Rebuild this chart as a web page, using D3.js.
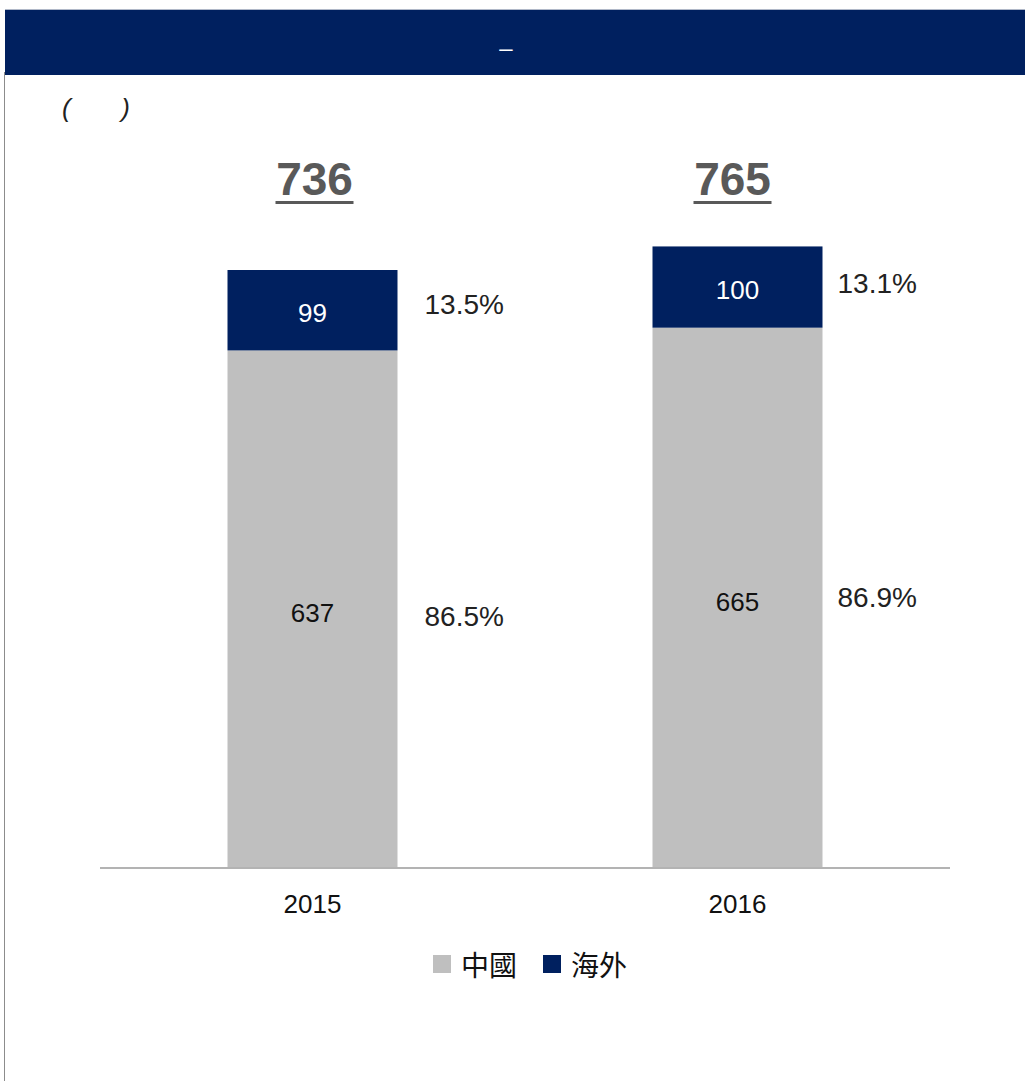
<!DOCTYPE html>
<meta charset="utf-8">
<style>
body { margin: 0; background: #fff; }
text { font-family: "Liberation Sans", Arial, sans-serif; }
.cjk { font-family: "Noto Sans CJK TC", "Liberation Sans", sans-serif; }
</style>
<body>
<script src="https://d3js.org/d3.v7.min.js"></script>
<script>
// data
var years = ["2015", "2016"];
var china = [637, 665];
var overseas = [99, 100];
var totals = [736, 765];
var chinaPct = ["86.5%", "86.9%"];
var overseasPct = ["13.5%", "13.1%"];
var seriesNames = ["中國", "海外"];
var colors = ["#bfbfbf", "#00205f"];

// label nudges per bar (layout, as placed in the original slide)
var pctDx = [27, 15];
var chinaPctDy = [17, 9];
var overPctDy = [4, 6];

var width = 1025, height = 1081;

var svg = d3.select("body").append("svg")
    .attr("width", width)
    .attr("height", height);

// frame: header band and left rule
svg.append("line")
    .attr("x1", 4.5).attr("x2", 4.5)
    .attr("y1", 72).attr("y2", height)
    .attr("stroke", "#8c8c8c").attr("stroke-width", 1);
svg.append("rect")
    .attr("x", 5).attr("y", 9)
    .attr("width", width - 5).attr("height", 66)
    .attr("fill", "#00205f");
svg.append("line")
    .attr("x1", 5).attr("x2", width)
    .attr("y1", 9.5).attr("y2", 9.5)
    .attr("stroke", "#b0b8c8").attr("stroke-width", 1);
svg.append("text")
    .attr("x", 506).attr("y", 56)
    .attr("text-anchor", "middle")
    .attr("fill", "#fff")
    .attr("font-size", 24)
    .text("–");
svg.append("text")
    .attr("x", 62).attr("y", 117)
    .attr("font-size", 26)
    .attr("font-style", "italic")
    .attr("fill", "#222")
    .attr("xml:space", "preserve")
    .text("(       )");

// scales
var x = d3.scaleBand()
    .domain(years)
    .range([100, 950])
    .paddingInner(0.6)
    .paddingOuter(0.3);

var y = d3.scaleLinear()
    .domain([0, 736])
    .range([868, 270]);

var bw = x.bandwidth();

var g = svg.append("g");

// china segment
g.selectAll(".china").data(years).enter().append("rect")
    .attr("x", function(d) { return x(d); })
    .attr("y", function(d, i) { return y(china[i]); })
    .attr("width", bw)
    .attr("height", function(d, i) { return y(0) - y(china[i]); })
    .attr("fill", colors[0]);

// overseas segment
g.selectAll(".over").data(years).enter().append("rect")
    .attr("x", function(d) { return x(d); })
    .attr("y", function(d, i) { return y(china[i] + overseas[i]); })
    .attr("width", bw)
    .attr("height", function(d, i) { return y(china[i]) - y(china[i] + overseas[i]); })
    .attr("fill", colors[1]);

// value labels inside segments
g.selectAll(".vc").data(years).enter().append("text")
    .attr("x", function(d) { return x(d) + bw / 2; })
    .attr("y", function(d, i) { return (y(0) + y(china[i])) / 2 + 13; })
    .attr("text-anchor", "middle")
    .attr("font-size", 26)
    .attr("fill", "#111")
    .text(function(d, i) { return china[i]; });

g.selectAll(".vo").data(years).enter().append("text")
    .attr("x", function(d) { return x(d) + bw / 2; })
    .attr("y", function(d, i) { return (y(china[i]) + y(china[i] + overseas[i])) / 2 + 12; })
    .attr("text-anchor", "middle")
    .attr("font-size", 26)
    .attr("fill", "#fff")
    .text(function(d, i) { return overseas[i]; });

// percentage labels
g.selectAll(".pc").data(years).enter().append("text")
    .attr("x", function(d, i) { return x(d) + bw + pctDx[i]; })
    .attr("y", function(d, i) { return (y(0) + y(china[i])) / 2 + chinaPctDy[i]; })
    .attr("font-size", 28)
    .attr("fill", "#222")
    .text(function(d, i) { return chinaPct[i]; });

g.selectAll(".po").data(years).enter().append("text")
    .attr("x", function(d, i) { return x(d) + bw + pctDx[i]; })
    .attr("y", function(d, i) { return (y(china[i]) + y(china[i] + overseas[i])) / 2 + overPctDy[i]; })
    .attr("font-size", 28)
    .attr("fill", "#222")
    .text(function(d, i) { return overseasPct[i]; });

// totals, underlined
var tot = g.selectAll(".tot").data(years).enter().append("g")
    .attr("transform", function(d, i) { return "translate(" + (x(d) + bw / 2 + (i ? -5 : 2)) + ",0)"; });
tot.append("text")
    .attr("y", 195)
    .attr("text-anchor", "middle")
    .attr("font-size", 46)
    .attr("font-weight", "bold")
    .attr("fill", "#595959")
    .text(function(d, i) { return totals[i]; });
tot.append("rect")
    .attr("x", -39).attr("y", 201)
    .attr("width", 78).attr("height", 3)
    .attr("fill", "#595959");

// x axis
var axis = svg.append("g")
    .attr("transform", "translate(0,868)")
    .call(d3.axisBottom(x).tickSize(0).tickPadding(27));
axis.select(".domain")
    .attr("d", "M100,0H950")
    .attr("stroke", "#b3b3b3").attr("stroke-width", 2);
axis.selectAll("text")
    .attr("font-size", 26)
    .attr("font-family", "Liberation Sans, Arial, sans-serif")
    .attr("fill", "#111");

// legend
var legendX = [433, 543];
var leg = svg.selectAll(".leg").data(seriesNames).enter().append("g")
    .attr("transform", function(d, i) { return "translate(" + legendX[i] + ",955)"; });
leg.append("rect")
    .attr("width", 18).attr("height", 18)
    .attr("fill", function(d, i) { return colors[i]; });
leg.append("text")
    .attr("class", "cjk")
    .attr("x", 28).attr("y", 21)
    .attr("font-size", 28)
    .attr("fill", "#111")
    .text(function(d) { return d; });
</script>
</body>
</html>
